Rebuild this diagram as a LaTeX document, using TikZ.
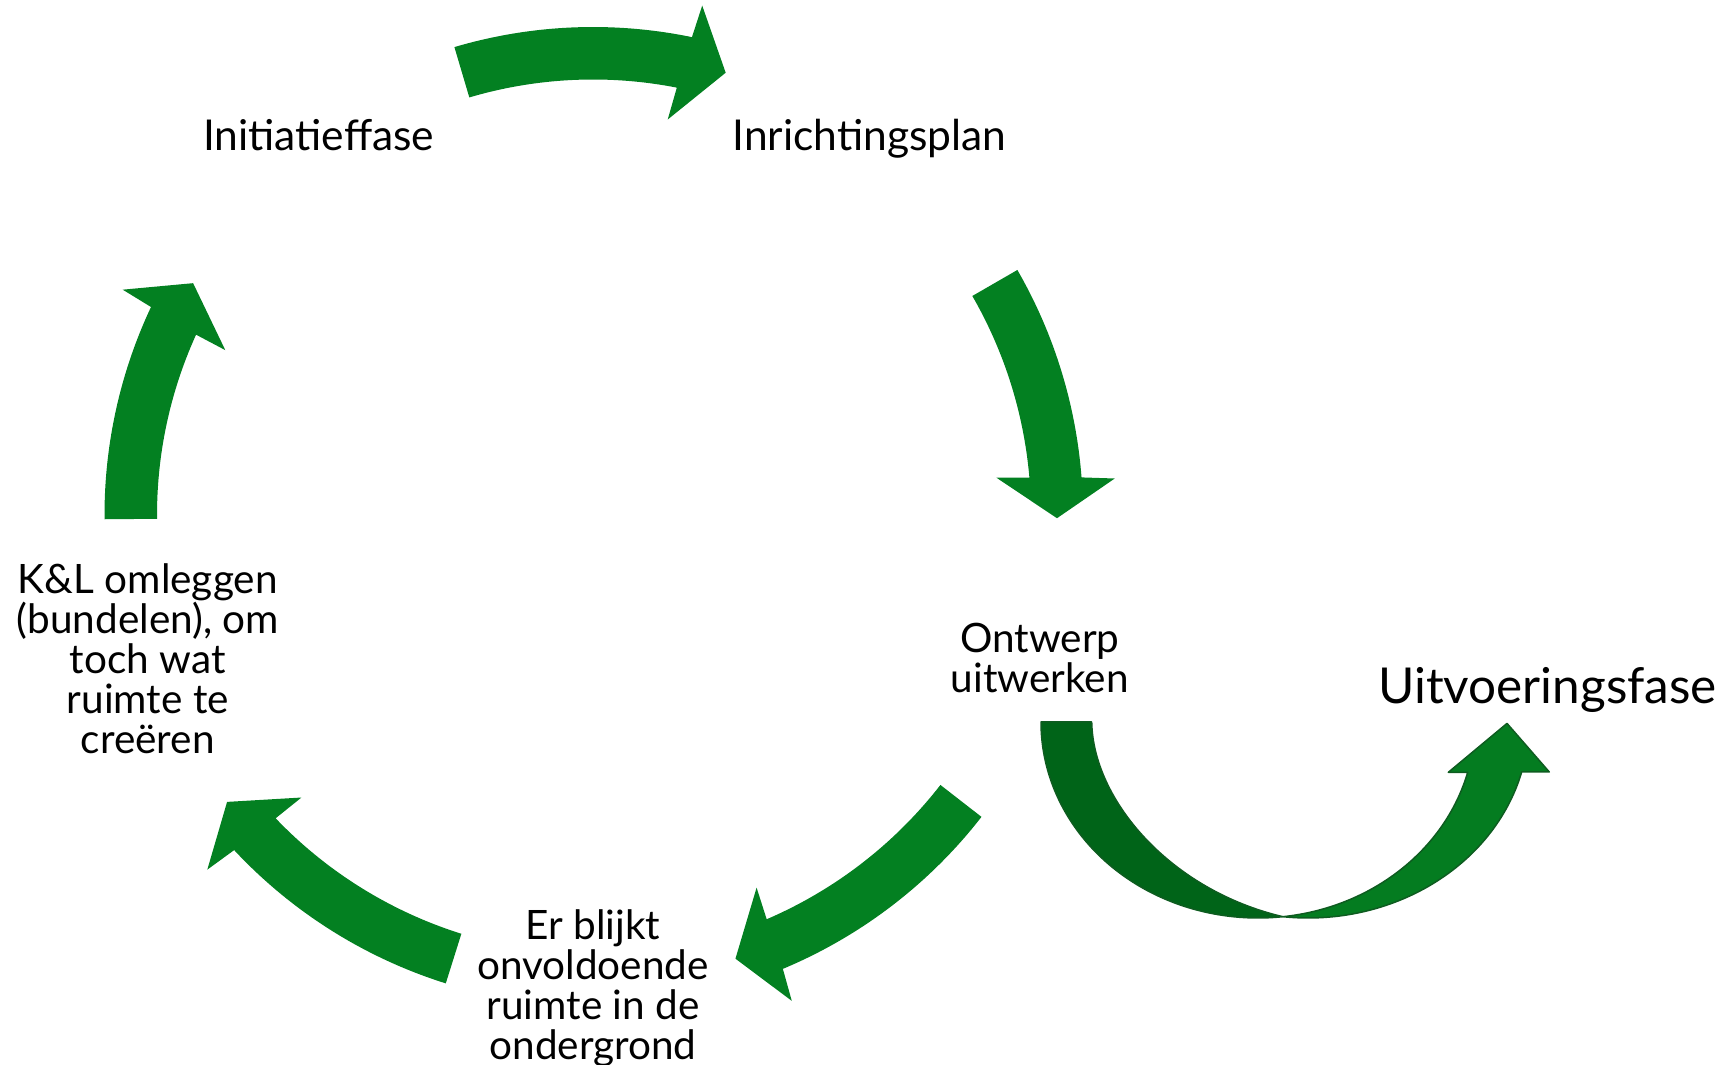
\documentclass[tikz,border=0pt]{standalone}
\usepackage{fontspec}
\setmainfont{Lato}
\definecolor{cyc}{RGB}{3,128,33}
\definecolor{ulight}{RGB}{4,124,32}
\definecolor{udark}{RGB}{0,100,24}
\definecolor{uedge}{RGB}{14,92,32}
% #1 tail, #2 outer junction, #3 inner junction, #4 outer barb, #5 inner barb, #6 tip, #7 outer r, #8 inner r
\newcommand{\cycarrow}[8]{%
  \pgfmathsetmacro{\ro}{#7}\pgfmathsetmacro{\ri}{#8}%
  \pgfmathsetmacro{\rbo}{#7+33}\pgfmathsetmacro{\rbi}{#8-33}%
  \pgfmathsetmacro{\rt}{(#7+#8)/2}%
  \fill[cyc] (#1:\ro) arc[start angle=#1, end angle=#2, radius=\ro]
    -- (#4:\rbo) -- (#6:\rt) -- (#5:\rbi) -- (#3:\ri)
    arc[start angle=#3, end angle=#1, radius=\ri] -- cycle;}
\begin{document}
\begin{tikzpicture}[x=1pt,y=1pt,
  lbl/.style={font=\fontsize{40.5}{40}\selectfont, align=center, inner sep=0pt, anchor=base},
  lblb/.style={font=\fontsize{42.5}{42}\selectfont, inner sep=0pt, anchor=base},
  big/.style={font=\fontsize{49.5}{54}\selectfont, inner sep=0pt, anchor=base},
  uedgestyle/.style={draw=uedge, line width=1.5pt, line join=round}]
\useasboundingbox (0,0) rectangle (1729,1065);
% cycle arrows around centre (593,550)
\begin{scope}[shift={(593,550)}]
  \cycarrow{106.5}{78.3}{78.9}{77.9}{79.3}{73.3}{488}{435.5}
  \cycarrow{30.0}{4.4}{4.9}{4.0}{5.3}{-0.4}{490}{438}
  \cycarrow{-37.85}{-67.3}{-66.75}{-67.75}{-66.3}{-72.2}{492}{440}
  \cycarrow{-107.45}{-136.96}{-136.3}{-137.4}{-135.9}{-141.9}{491}{439}
  \cycarrow{180.5}{154.8}{155.57}{154.4}{155.85}{149.9}{488.5}{436}
\end{scope}
% U-turn arrow: dark back part
\filldraw[fill=udark, uedgestyle] (1041,343)
  arc[start angle=180, end angle=276.56, x radius=217, y radius=196]
  .. controls (1170,175) and (1093,265) .. (1091.7,343)
  -- cycle;
% U-turn arrow: light front part with head
\filldraw[fill=ulight, uedgestyle] (1282.8,148.3)
  arc[start angle=263.45, end angle=345.22, x radius=221, y radius=196]
  -- (1549.3,293) -- (1507,341.6) -- (1448.3,292.7) -- (1467.7,292.7)
  arc[start angle=345.13, end angle=276.56, x radius=217, y radius=196]
  -- cycle;
% labels (base anchor = last line baseline)
\node[lblb] (init) at (318.7,914) {Initiatieffase};
\node[lblb] (inr) at (869.5,914) {Inrichtingsplan};
\node[lbl] (ontw) at (1039.8,372) {Ontwerp\\uitwerken};
\node[lbl] (erb) at (593,5.6) {Er blijkt\\onvoldoende\\ruimte in de\\ondergrond};
\node[lbl] (kl) at (147.8,311) {K\&L omleggen\\(bundelen), om\\toch wat\\ruimte te\\creëren};
\node[big] (uitv) at (1547.5,361.7) {Uitvoeringsfase};
\end{tikzpicture}
\end{document}
